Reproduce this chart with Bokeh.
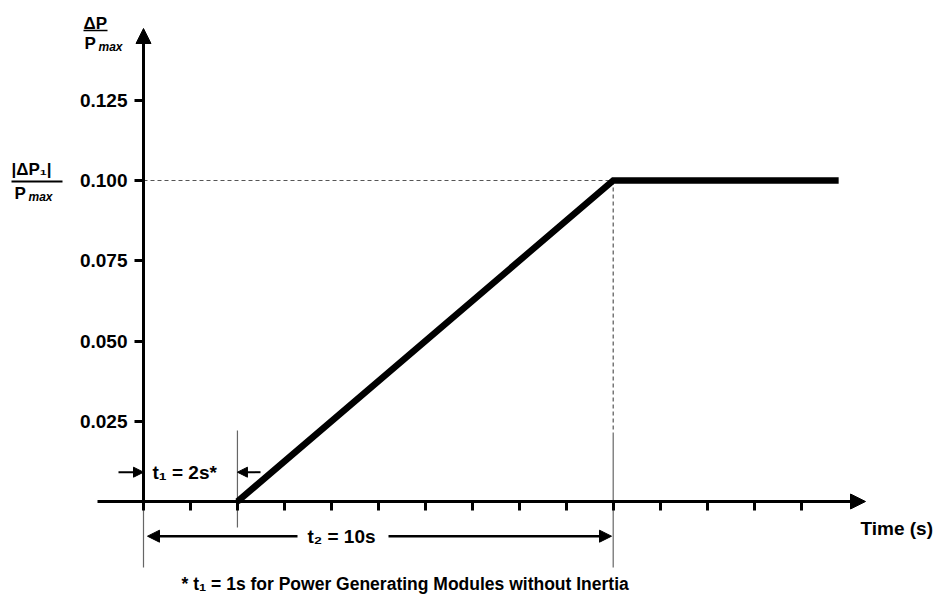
from bokeh.plotting import figure
from bokeh.models import Range1d, LinearAxis, FixedTicker, Arrow, NormalHead, Label, NumeralTickFormatter
from bokeh.embed import file_html
from bokeh.resources import INLINE

# ---- data ----
ramp_time = [2, 10, 14.8]          # s
ramp_dp = [0.0, 0.100, 0.100]      # dP / Pmax
y_ticks = [0.025, 0.050, 0.075, 0.100, 0.125]
x_ticks = list(range(0, 15))
t1 = 2
t2 = 10
dp1 = 0.100

# ---- layout helpers (page pixel -> data) ----
W, H = 940, 594
OFF = 0
PX_PER_S = 46.97
PX_PER_UNIT = 3210.0


def X(px):
    return (px - 143) / PX_PER_S


def Y(py):
    return (501 - py) / PX_PER_UNIT


FONT = "Liberation Sans"

p = figure(width=W, height=H, output_backend="svg", toolbar_location=None,
           x_range=Range1d(X(OFF), X(OFF + W)), y_range=Range1d(Y(OFF + H), Y(OFF)),
           x_axis_type=None, y_axis_type=None, min_border=0,
           outline_line_color=None, background_fill_color="white",
           border_fill_color="white")

# guide lines
p.line([0, t2], [dp1, dp1], line_color="#555555", line_width=1, line_dash="4 3")
p.line([t2, t2], [dp1, Y(432)], line_color="#555555", line_width=1.2, line_dash="4 3")
p.line([t2, t2], [Y(432), Y(567)], line_color="#666666", line_width=1.2)
p.line([0, 0], [0, Y(567)], line_color="#666666", line_width=1.2)
p.line([t1, t1], [Y(430), Y(527)], line_color="#666666", line_width=1.2)

# axes
xa = LinearAxis(fixed_location=0, bounds=(X(97), X(855)), ticker=FixedTicker(ticks=x_ticks),
                major_tick_out=9, major_tick_in=0, major_tick_line_width=3,
                minor_tick_line_color=None, axis_line_width=3, axis_line_color="black",
                major_label_text_font_size="0px",
                major_label_overrides={t: "" for t in x_ticks})
p.add_layout(xa, "below")

ya = LinearAxis(fixed_location=0, bounds=(0, Y(40)), ticker=FixedTicker(ticks=y_ticks),
                formatter=NumeralTickFormatter(format="0.000"),
                major_tick_out=9, major_tick_in=0, major_tick_line_width=3,
                minor_tick_line_color=None, axis_line_width=3, axis_line_color="black",
                major_label_text_font=FONT, major_label_text_font_style="bold",
                major_label_text_font_size="19px", major_label_text_color="black",
                major_label_standoff=7)
p.add_layout(ya, "left")

# ramp
p.line(ramp_time, ramp_dp, line_color="black", line_width=6.5, line_join="miter")

# axis arrow heads
p.add_layout(Arrow(end=NormalHead(size=15, fill_color="black", line_color="black"),
                   x_start=X(850), y_start=0, x_end=X(865), y_end=0,
                   line_width=3, line_color="black"))
p.add_layout(Arrow(end=NormalHead(size=15, fill_color="black", line_color="black"),
                   x_start=0, y_start=Y(45), x_end=0, y_end=Y(28),
                   line_width=3, line_color="black"))

# t1 arrows
ya1 = Y(471.7)
p.add_layout(Arrow(end=NormalHead(size=10, fill_color="black", line_color="black"),
                   x_start=X(118), y_start=ya1, x_end=0, y_end=ya1,
                   line_width=2, line_color="black"))
p.add_layout(Arrow(end=NormalHead(size=10, fill_color="black", line_color="black"),
                   x_start=X(260), y_start=ya1, x_end=t1, y_end=ya1,
                   line_width=2, line_color="black"))

# t2 arrows
ya2 = Y(535.7)
p.add_layout(Arrow(end=NormalHead(size=12, fill_color="black", line_color="black"),
                   x_start=X(297), y_start=ya2, x_end=X(147), y_end=ya2,
                   line_width=2.5, line_color="black"))
p.add_layout(Arrow(end=NormalHead(size=12, fill_color="black", line_color="black"),
                   x_start=X(388), y_start=ya2, x_end=X(611), y_end=ya2,
                   line_width=2.5, line_color="black"))


def lab(x, y, text, size="19px", align="left", baseline="middle", style="bold"):
    p.add_layout(Label(x=x, y=y, text=text, text_font=FONT, text_font_style=style,
                       text_font_size=size, text_align=align, text_baseline=baseline,
                       text_color="black"))


lab(X(152), ya1, "t₁ = 2s*")
lab(X(341), ya2, "t₂ = 10s", align="center")
lab(X(860), Y(528), "Time (s)")
lab(X(181), Y(583), "* t₁ = 1s for Power Generating Modules without Inertia",
    size="17.5px", baseline="alphabetic")

# y-axis title: dP / Pmax
lab(X(83), Y(23), "ΔP", size="17px", baseline="alphabetic")
p.line([X(83), X(107)], [Y(30), Y(30)], line_color="black", line_width=1.5)
lab(X(84), Y(43), "P", size="17px", baseline="alphabetic")
lab(X(98), Y(46), "max", size="12px", baseline="alphabetic", style="bold italic")

# |dP1| / Pmax
lab(X(11), Y(169), "|ΔP₁|", size="17px", baseline="alphabetic")
p.line([X(11), X(62)], [Y(181), Y(181)], line_color="black", line_width=2)
lab(X(14), Y(193), "P", size="17px", baseline="alphabetic")
lab(X(28), Y(196), "max", size="12px", baseline="alphabetic", style="bold italic")

open("out.html", "w").write(file_html(p, INLINE))
